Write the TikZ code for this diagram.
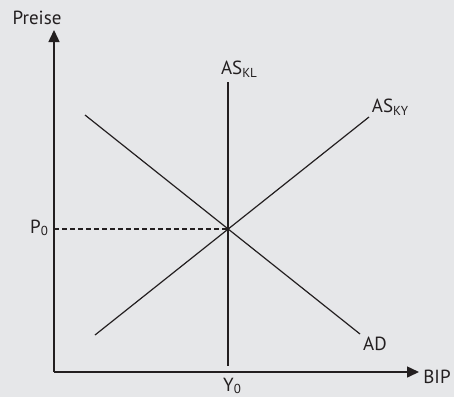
\documentclass[tikz,border=0pt]{standalone}
\usepackage{fontspec}
\setmainfont{PT Sans}
\usetikzlibrary{arrows.meta}
\definecolor{bg}{HTML}{E6E7E9}
\definecolor{ink}{HTML}{231F20}
\newcommand{\sbx}[1]{\raisebox{-2.5pt}{\fontsize{13}{14}\selectfont #1}}
\begin{document}
\begin{tikzpicture}[x=1pt,y=-1pt,
  axis/.style={draw=ink,line width=1.5pt,-{Triangle[length=12pt,width=11pt]}},
  curve/.style={draw=ink,line width=1.2pt},
  lbl/.style={text=ink,font=\fontsize{19}{21}\selectfont,inner sep=0pt}]
\fill[bg] (0,0) rectangle (454,397);
\useasboundingbox (0,0) rectangle (454,397);
\coordinate (O) at (54,372);
\coordinate (ytip) at (54,30);
\coordinate (xtip) at (419,372);
\coordinate (E) at (228,229);
\coordinate (kltop) at (228,82);
\coordinate (klbot) at (228,366);
\coordinate (kylo) at (95,335);
\coordinate (kyhi) at (369,117);
\coordinate (adhi) at (85,115);
\coordinate (adlo) at (360,334);
\coordinate (pleft) at (54,229);
\draw[axis] (O) -- (ytip);
\draw[axis] (O) -- (xtip);
\draw[curve] (kltop) -- (klbot);
\draw[curve] (kylo) -- (kyhi);
\draw[curve] (adhi) -- (adlo);
\draw[draw=ink,line width=1.1pt,dash pattern=on 4.5pt off 3.5pt] (pleft) -- (E);
\node[lbl] (preise) at (37,18) {Preise};
\node[lbl] (bip) at (437,377) {BIP};
\node[lbl] (askl) at (239,69) {AS\sbx{KL}};
\node[lbl] (asky) at (390,107) {AS\sbx{KY}};
\node[lbl] (ad) at (375,344) {AD};
\node[lbl] (p0) at (39,228) {P\sbx{0}};
\node[lbl] (y0) at (232,386) {Y\sbx{0}};
\end{tikzpicture}
\end{document}
